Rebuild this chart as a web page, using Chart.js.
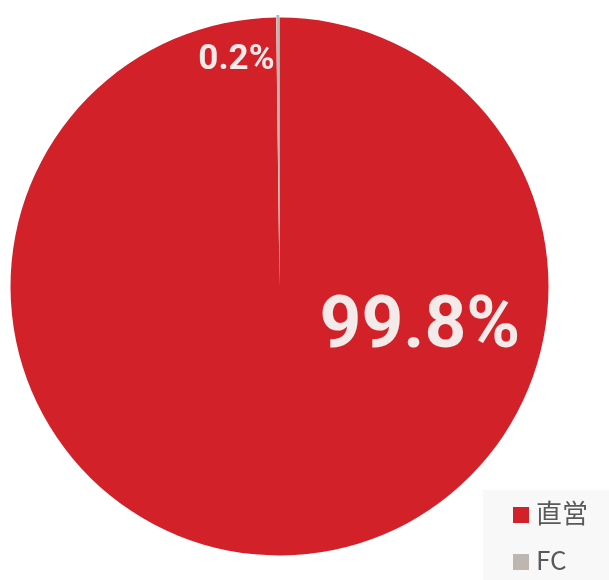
<!DOCTYPE html>
<html>
<head>
<meta charset="utf-8">
<script src="https://cdn.jsdelivr.net/npm/chart.js@4"></script>
<style>
    html, body { margin: 0; padding: 0; background: #ffffff; }
    #wrap { position: relative; width: 609px; height: 580px; }
</style>
</head>
<body>
<div id="wrap"><canvas id="shareChart"></canvas></div>
<script>
const categories = ["直営", "FC"];
const shares = [99.8, 0.2];
const valueLabels = ["99.8%", "0.2%"];
const sliceColors = ["#d32129", "#bdb6b1"];

// label anchor as a fraction of the radius from the pie centre
const labelAnchors = [
    { dx: 0.522, dy: 0.156, size: 73 },
    { dx: -0.16, dy: -0.842, size: 35 }
];

const sliceLabels = {
    id: "sliceLabels",
    afterDatasetsDraw(chart) {
        const { ctx } = chart;
        const arc = chart.getDatasetMeta(0).data[0];
        if (!arc) return;
        const r = arc.outerRadius;
        ctx.save();
        ctx.fillStyle = "#f5eaea";
        ctx.textAlign = "center";
        ctx.textBaseline = "middle";
        valueLabels.forEach((text, i) => {
            const a = labelAnchors[i];
            ctx.font = `bold ${a.size}px Roboto, "Noto Sans", sans-serif`;
            ctx.fillText(text, arc.x + a.dx * r, arc.y + a.dy * r);
        });
        ctx.restore();
    }
};

const cornerLegend = {
    id: "cornerLegend",
    afterDraw(chart) {
        const { ctx, width, height } = chart;
        const boxW = 126;
        const boxH = 90;
        const left = width - boxW;
        const top = height - boxH;
        ctx.save();
        ctx.fillStyle = "#f8f8f8";
        ctx.fillRect(left, top, boxW, boxH);
        ctx.font = '26px "Noto Sans CJK JP", sans-serif';
        ctx.textBaseline = "middle";
        ctx.textAlign = "left";
        categories.forEach((name, i) => {
            const y = top + 17 + i * 47;
            ctx.fillStyle = sliceColors[i];
            ctx.fillRect(left + 30, y, 16, 16);
            ctx.fillStyle = "#595959";
            ctx.fillText(name, left + 53, y + 6);
        });
        ctx.restore();
    }
};

new Chart(document.getElementById("shareChart"), {
    type: "pie",
    data: {
        labels: categories,
        datasets: [
            {
                data: shares,
                backgroundColor: sliceColors,
                borderWidth: 0,
                offset: [0, 5],
                hoverOffset: 0
            }
        ]
    },
    options: {
        responsive: true,
        maintainAspectRatio: false,
        animation: false,
        radius: 269,
        layout: {
            padding: { left: 0, right: 50, top: 0, bottom: 7 }
        },
        plugins: {
            legend: { display: false },
            tooltip: { enabled: false }
        }
    },
    plugins: [sliceLabels, cornerLegend]
});
</script>
</body>
</html>
